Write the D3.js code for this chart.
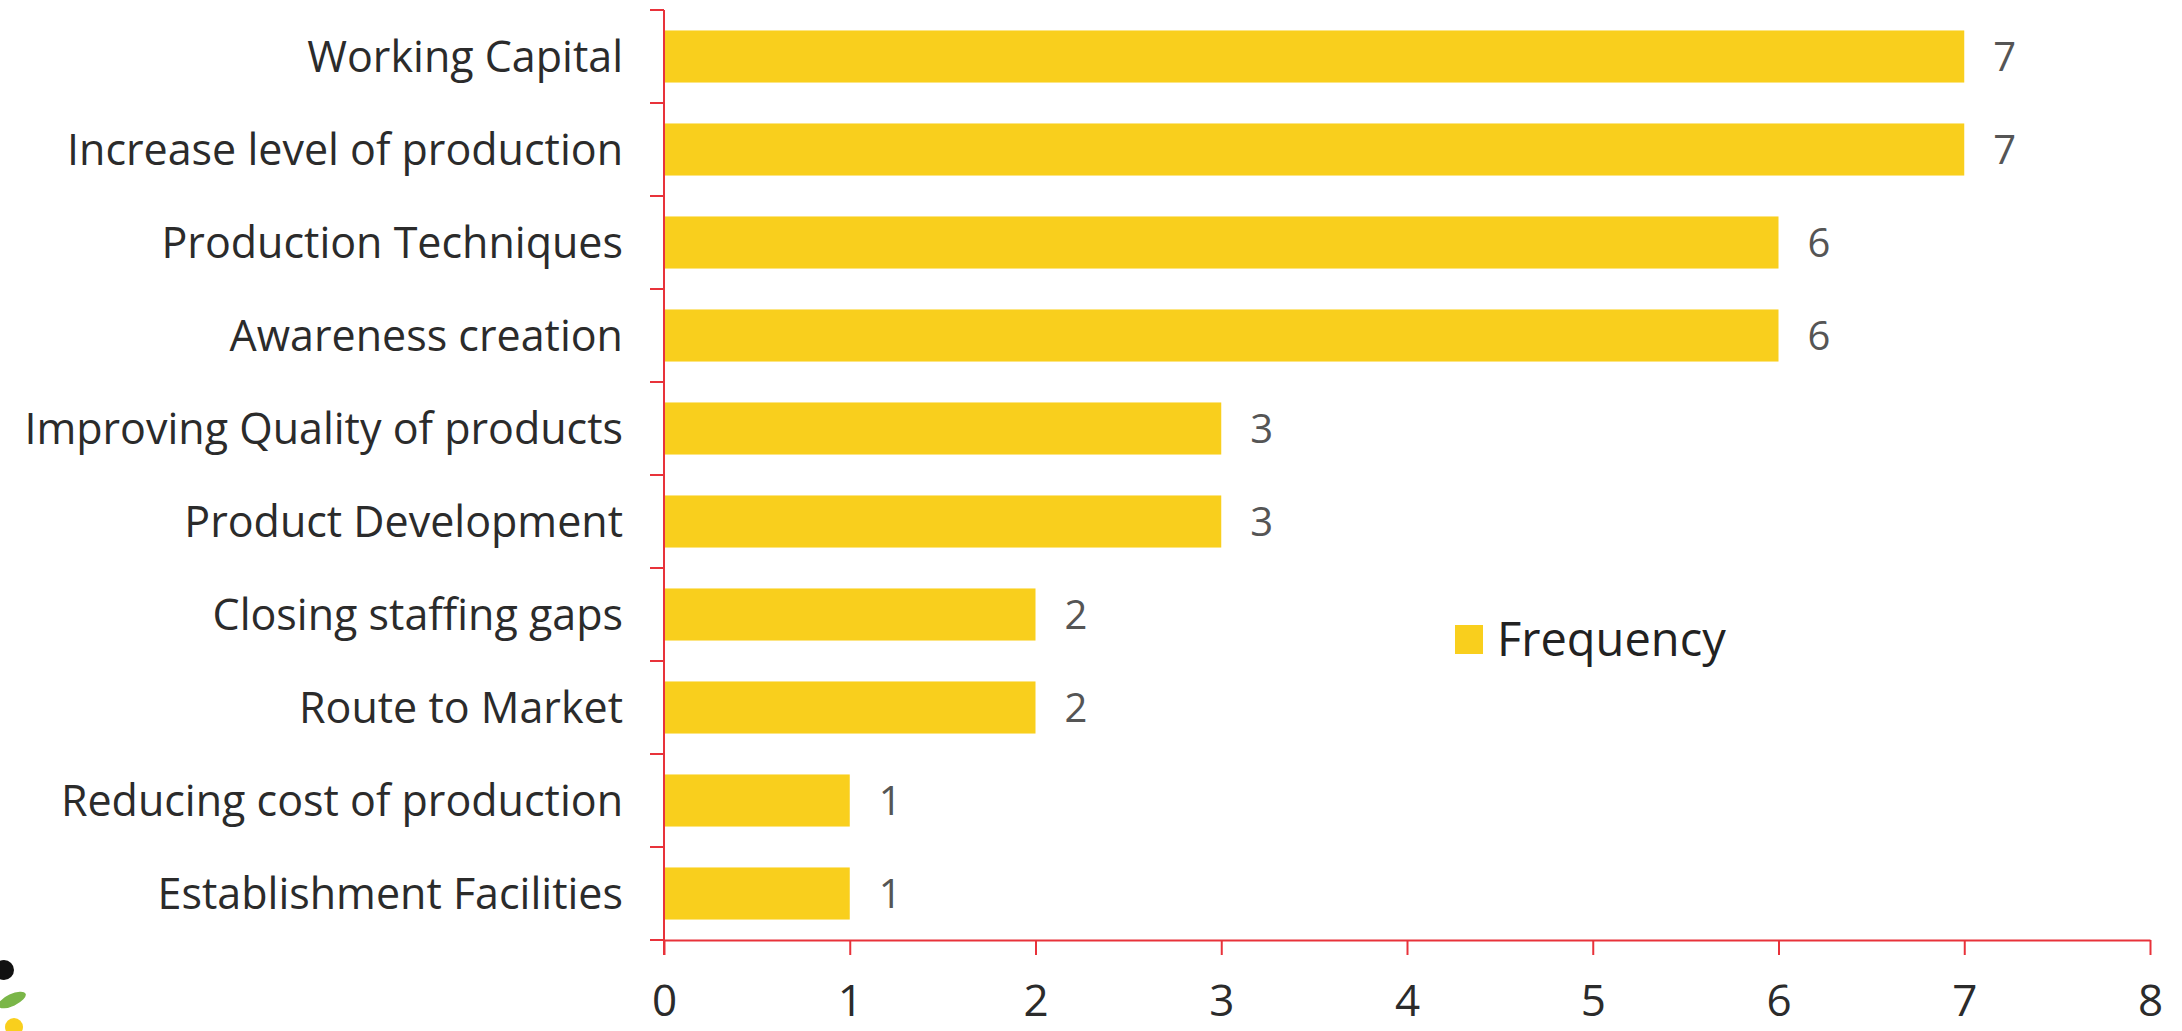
<!DOCTYPE html>
<html>
<head>
<meta charset="utf-8">
<script src="https://cdnjs.cloudflare.com/ajax/libs/d3/7.8.5/d3.min.js"></script>
<style>
  html, body { margin: 0; padding: 0; background: #ffffff; }
  svg { display: block; }
</style>
</head>
<body>
<svg id="chart" width="2182" height="1031"></svg>
<script>
const categories = [
  "Working Capital",
  "Increase level of production",
  "Production Techniques",
  "Awareness creation",
  "Improving Quality of products",
  "Product Development",
  "Closing staffing gaps",
  "Route to Market",
  "Reducing cost of production",
  "Establishment Facilities"
];
const frequency = [7, 7, 6, 6, 3, 3, 2, 2, 1, 1];
const xTicks = [0, 1, 2, 3, 4, 5, 6, 7, 8];
const seriesName = "Frequency";

const W = 2182, H = 1031;
const margin = { left: 664, right: 32, top: 10, bottom: 91 };
const FONT = "'Open Sans', 'Segoe UI', sans-serif";
const RED = "#e8323a";
const BAR = "#f9cf1d";

const svg = d3.select("#chart");

const x = d3.scaleLinear().domain([0, 8]).range([margin.left, W - margin.right]);
const y = d3.scaleBand().domain(categories).range([margin.top, H - margin.bottom])
  .paddingInner(0.44).paddingOuter(0.22);

// bars
svg.append("g").selectAll("rect").data(categories).join("rect")
  .attr("x", x(0))
  .attr("y", d => y(d))
  .attr("width", (d, i) => x(frequency[i]) - x(0))
  .attr("height", y.bandwidth())
  .attr("fill", BAR);

// value labels
svg.append("g").selectAll("text").data(categories).join("text")
  .attr("x", (d, i) => x(frequency[i]) + 29)
  .attr("y", d => y(d) + y.bandwidth() / 2)
  .attr("dy", "0.36em")
  .attr("font-family", FONT)
  .attr("font-size", 40)
  .attr("fill", "#555")
  .text((d, i) => frequency[i]);

// y axis: band boundaries as ticks
const y0 = margin.top;
const yBottom = H - margin.bottom;
const boundaries = d3.range(categories.length + 1).map(i => y0 + i * (yBottom - y0) / categories.length);

const gy = svg.append("g");
gy.append("line")
  .attr("x1", x(0)).attr("x2", x(0))
  .attr("y1", y0).attr("y2", yBottom + 15)
  .attr("stroke", RED).attr("stroke-width", 2);
gy.selectAll("line.tk").data(boundaries).join("line")
  .attr("class", "tk")
  .attr("x1", x(0) - 14).attr("x2", x(0))
  .attr("y1", d => d).attr("y2", d => d)
  .attr("stroke", RED).attr("stroke-width", 2);

// category labels
gy.selectAll("text").data(categories).join("text")
  .attr("x", x(0) - 41)
  .attr("y", d => y(d) + y.bandwidth() / 2)
  .attr("dy", "0.36em")
  .attr("text-anchor", "end")
  .attr("font-family", FONT)
  .attr("font-size", 43)
  .attr("fill", "#2b2b2b")
  .text(d => d);

// x axis
const xAxis = d3.axisBottom(x).tickValues(xTicks).tickSize(15).tickPadding(30).tickSizeOuter(0)
  .tickFormat(d3.format("d"));
const gx = svg.append("g").attr("transform", `translate(0,${yBottom})`).call(xAxis);
gx.select(".domain").attr("stroke", RED).attr("stroke-width", 2);
gx.selectAll(".tick line").attr("stroke", RED).attr("stroke-width", 2);
gx.selectAll(".tick text")
  .attr("font-family", FONT)
  .attr("font-size", 44)
  .attr("fill", "#2b2b2b");

// legend
const lg = svg.append("g").attr("transform", "translate(1455,625)");
lg.append("rect").attr("x", 0).attr("y", 0).attr("width", 28).attr("height", 29).attr("fill", BAR);
lg.append("text").attr("x", 42).attr("y", 14.5).attr("dy", "0.36em")
  .attr("font-family", FONT).attr("font-size", 47).attr("fill", "#222")
  .text(seriesName);

// partial logo at bottom-left corner (decorative)
const logo = svg.append("g");
logo.append("circle").attr("cx", 4).attr("cy", 970).attr("r", 10).attr("fill", "#111");
logo.append("ellipse").attr("cx", 12).attr("cy", 1000).attr("rx", 15).attr("ry", 6)
  .attr("transform", "rotate(-25 12 1000)").attr("fill", "#7ab648");
logo.append("circle").attr("cx", 14).attr("cy", 1027).attr("r", 9).attr("fill", "#f9cf1d");
</script>
</body>
</html>
